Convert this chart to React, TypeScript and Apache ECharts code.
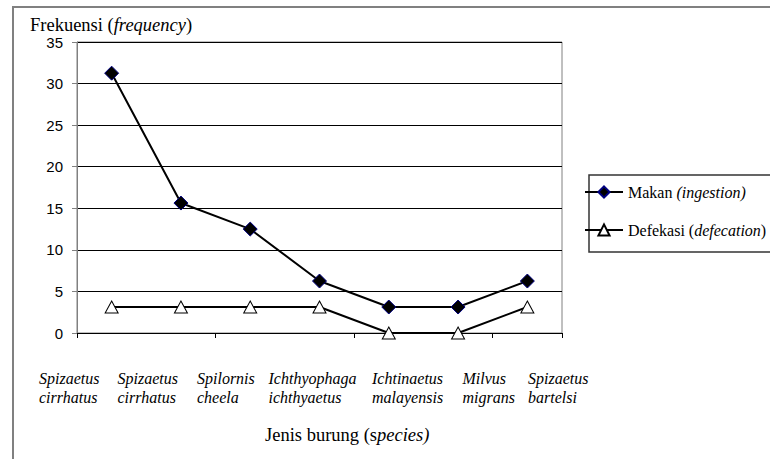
import React, { useEffect, useRef } from "react";
import * as echarts from "echarts";

const categories = [
  "Spizaetus\ncirrhatus",
  "Spizaetus\ncirrhatus",
  "Spilornis\ncheela",
  "Ichthyophaga\nichthyaetus",
  "Ichtinaetus\nmalayensis",
  "Milvus\nmigrans",
  "Spizaetus\nbartelsi",
];
const makan = [31.25, 15.63, 12.5, 6.25, 3.125, 3.125, 6.25];
const defekasi = [3.125, 3.125, 3.125, 3.125, 0, 0, 3.125];
const yTicks = { min: 0, max: 35, interval: 5 };

// label nudges (style only), to mimic the uneven label slots of the original
const labelNudge = [0, 2, 5, 0, 27, 41, 30];

const SERIF = "Liberation Serif";
const SANS = "Liberation Sans";

export default function App() {
  const ref = useRef<HTMLDivElement>(null);
  useEffect(() => {
    if (!ref.current) return;
    const chart = echarts.init(ref.current, null, { renderer: "svg" });
    const n = { fontFamily: SERIF, fontSize: 18.5, fontWeight: "normal", fontStyle: "normal", color: "#000" };
    const i = { ...n, fontStyle: "italic" };
    const ln = { ...n, fontSize: 16 };
    const li = { ...ln, fontStyle: "italic" };
    const xLabelStyle = {
      align: "left",
      fontFamily: SERIF,
      fontWeight: "normal",
      fontSize: 16,
      fontStyle: "italic",
      lineHeight: 19,
      color: "#000",
    };
    chart.setOption({
      animation: false,
      backgroundColor: "#fff",
      textStyle: { fontFamily: SERIF, fontWeight: "normal" },
      title: [
        {
          text: "{n|Frekuensi (}{i|frequency}{n|)}",
          left: 30,
          top: 15,
          padding: 0,
          textStyle: { fontFamily: SERIF, fontWeight: "normal", fontSize: 18.5, rich: { n, i } },
        },
        {
          text: "{n|Jenis burung (s}{i|pecies)}",
          left: 265,
          top: 425,
          padding: 0,
          textStyle: { fontFamily: SERIF, fontWeight: "normal", fontSize: 18.5, rich: { n, i } },
        },
      ],
      graphic: [
        {
          type: "rect",
          shape: { x: 13, y: 7, width: 820, height: 520 },
          style: { fill: "none", stroke: "#808080", lineWidth: 2 },
          silent: true,
          z: 0,
        },
        {
          type: "rect",
          shape: { x: 589, y: 175, width: 220, height: 77 },
          style: { fill: "#fff", stroke: "#333", lineWidth: 1.5 },
          silent: true,
          z: 1,
        },
      ],
      legend: {
        orient: "vertical",
        left: 584,
        top: 184,
        padding: 0,
        itemGap: 22,
        itemWidth: 38,
        itemHeight: 14,
        z: 5,
        data: ["Makan", "Defekasi"],
        formatter: (name: string) =>
          name === "Makan"
            ? "{n|Makan }{i|(ingestion)}"
            : "{n|Defekasi (}{i|defecation}{n|)}",
        textStyle: {
          fontFamily: SERIF,
          fontWeight: "normal",
          fontSize: 16,
          color: "#000",
          rich: { n: ln, i: li },
        },
      },
      grid: [
        {
          left: 77,
          top: 42,
          width: 485,
          height: 291,
          show: true,
          borderColor: "#808080",
          borderWidth: 1,
          backgroundColor: "transparent",
        },
        { left: 39, top: 42, width: 459, height: 291 },
      ],
      xAxis: [
        {
          type: "category",
          gridIndex: 0,
          data: categories,
          boundaryGap: true,
          axisLine: { show: true, lineStyle: { color: "#000", width: 1 } },
          axisTick: { show: true, inside: false, length: 5, lineStyle: { color: "#000" } },
          axisLabel: { show: false },
          splitLine: { show: false },
        },
        {
          type: "category",
          gridIndex: 1,
          data: categories.map((c, k) => ({
            value: c,
            textStyle: { ...xLabelStyle, padding: [0, 0, 0, labelNudge[k]] },
          })),
          boundaryGap: false,
          axisLine: { show: false },
          axisTick: { show: false },
          splitLine: { show: false },
          axisLabel: {
            show: true,
            interval: 0,
            margin: 36,
            ...xLabelStyle,
          },
        },
      ],
      yAxis: [
        {
          type: "value",
          gridIndex: 0,
          min: yTicks.min,
          max: yTicks.max,
          interval: yTicks.interval,
          axisLine: { show: true, lineStyle: { color: "#808080", width: 1 } },
          axisTick: { show: true, length: 5, lineStyle: { color: "#808080" } },
          axisLabel: { fontFamily: SANS, fontSize: 15, color: "#000", margin: 14 },
          splitLine: { show: true, lineStyle: { color: "#000", width: 1 } },
        },
        { type: "value", gridIndex: 1, show: false, min: 0, max: 35 },
      ],
      series: [
        {
          name: "Defekasi",
          type: "line",
          xAxisIndex: 0,
          yAxisIndex: 0,
          data: defekasi,
          symbol: "triangle",
          symbolSize: [13, 12],
          lineStyle: { color: "#000", width: 2 },
          itemStyle: { color: "#fff", borderColor: "#000", borderWidth: 1 },
          z: 3,
        },
        {
          name: "Makan",
          type: "line",
          xAxisIndex: 0,
          yAxisIndex: 0,
          data: makan,
          symbol: "diamond",
          symbolSize: 14,
          lineStyle: { color: "#000", width: 2 },
          itemStyle: { color: "#000", borderColor: "#000080", borderWidth: 1 },
          z: 4,
        },
      ],
    });
    return () => chart.dispose();
  }, []);
  return (
    <div
      ref={ref}
      style={{ position: "fixed", left: 0, top: 0, width: 770, height: 459 }}
    />
  );
}
